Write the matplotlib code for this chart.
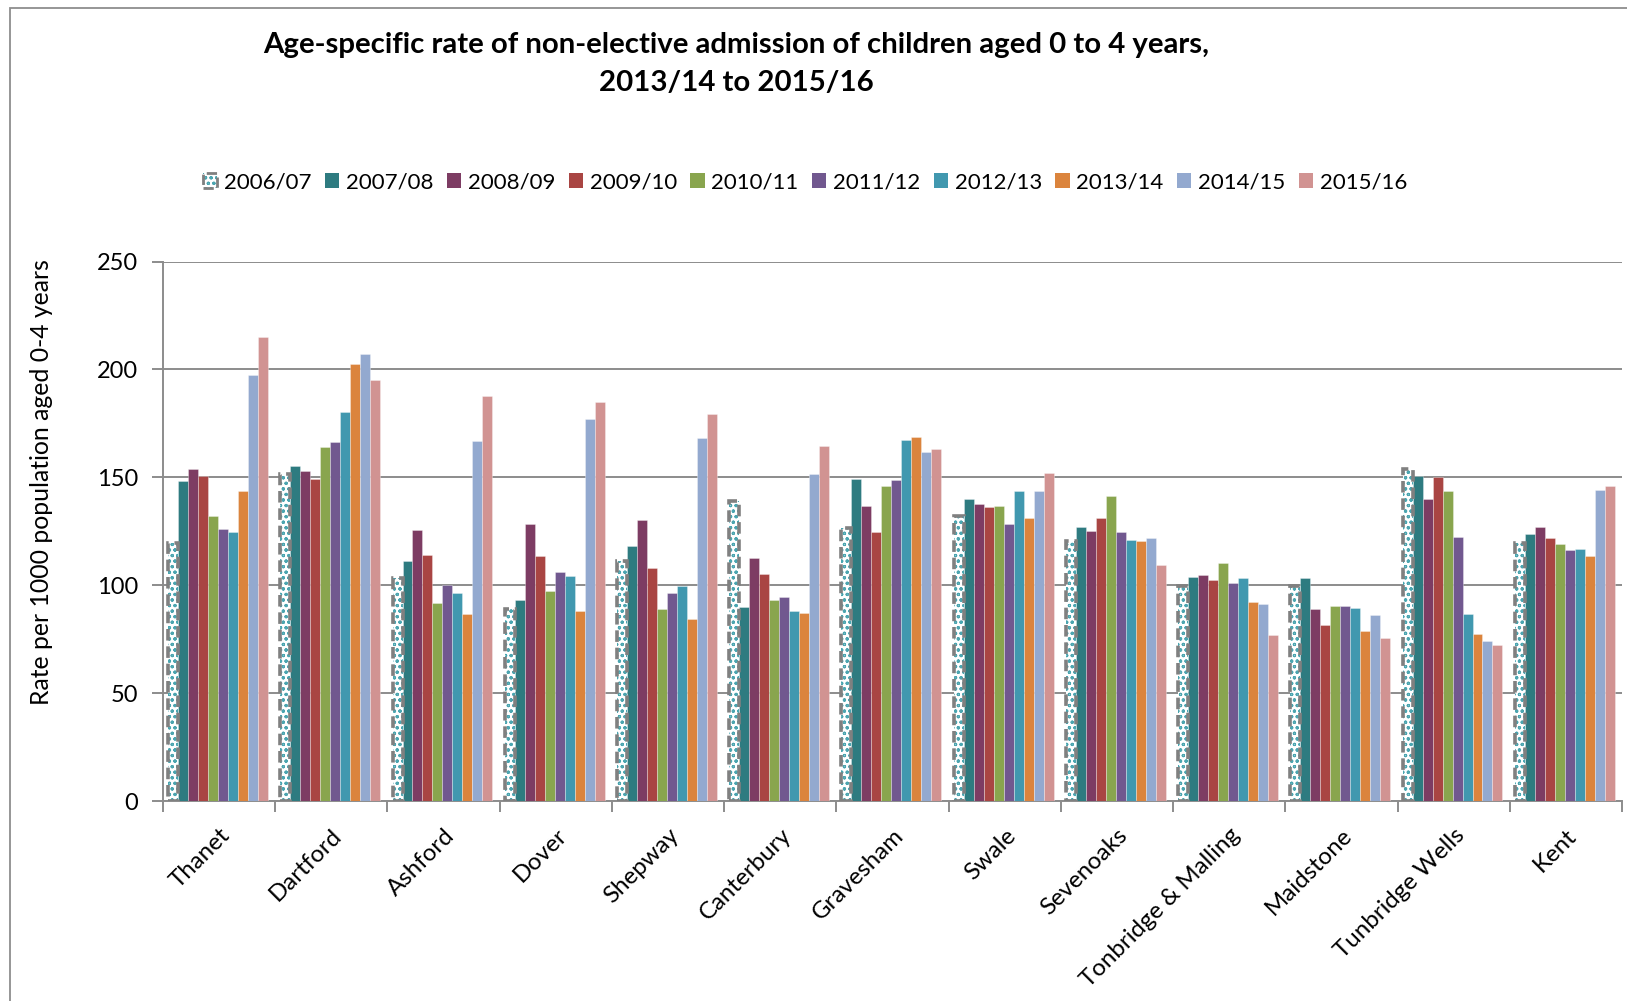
import matplotlib
matplotlib.use("Agg")
import matplotlib.pyplot as plt
import numpy as np
from matplotlib.patches import Patch, Rectangle
from matplotlib.legend_handler import HandlerTuple

plt.rcParams['font.family'] = ['Lato', 'DejaVu Sans']
plt.rcParams['hatch.linewidth'] = 0.8

districts = ["Thanet", "Dartford", "Ashford", "Dover", "Shepway", "Canterbury",
             "Gravesham", "Swale", "Sevenoaks", "Tonbridge & Malling", "Maidstone",
             "Tunbridge Wells", "Kent"]
years = ["2006/07", "2007/08", "2008/09", "2009/10", "2010/11", "2011/12",
         "2012/13", "2013/14", "2014/15", "2015/16"]

rate_2006_07 = [119.5, 151.5, 103.5, 89.0, 111.4, 139.2, 126.5, 132.1, 120.5, 99.8, 99.8, 154.0, 119.7]
rate_2007_08 = [148.5, 155.3, 111.4, 93.0, 118.2, 89.9, 149.3, 140.1, 127.0, 103.8, 103.3, 150.7, 123.7]
rate_2008_09 = [153.8, 153.1, 125.8, 128.5, 130.3, 112.7, 136.6, 137.6, 125.3, 104.6, 89.1, 140.1, 127.0]
rate_2009_10 = [150.7, 149.0, 113.9, 113.6, 107.9, 105.1, 124.7, 136.4, 131.3, 102.6, 81.6, 150.2, 121.7]
rate_2010_11 = [132.0, 164.1, 91.6, 97.3, 89.1, 93.2, 145.9, 136.8, 141.2, 110.1, 90.2, 143.5, 119.2]
rate_2011_12 = [126.0, 166.4, 100.0, 106.0, 96.5, 94.7, 148.7, 128.5, 124.5, 101.0, 90.2, 122.5, 116.4]
rate_2012_13 = [124.8, 180.3, 96.4, 104.3, 99.8, 88.2, 167.2, 143.5, 120.9, 103.5, 89.4, 86.6, 116.6]
rate_2013_14 = [143.7, 202.6, 86.6, 88.2, 84.3, 87.2, 168.7, 131.1, 120.5, 92.2, 79.0, 77.3, 113.4]
rate_2014_15 = [197.5, 207.3, 166.9, 177.2, 168.2, 151.5, 161.8, 143.7, 122.0, 91.1, 86.1, 74.2, 144.0]
rate_2015_16 = [214.9, 195.0, 187.6, 185.1, 179.3, 164.6, 163.1, 151.8, 109.4, 76.8, 75.5, 72.3, 146.0]

series = [rate_2006_07, rate_2007_08, rate_2008_09, rate_2009_10, rate_2010_11,
          rate_2011_12, rate_2012_13, rate_2013_14, rate_2014_15, rate_2015_16]

colors = [None, "#2E7B80", "#7D3C63", "#A94543", "#89A54E", "#71588F",
          "#4198AF", "#DB843D", "#93A9CF", "#D19392"]
dot_color = "#4BA5B0"
outline_grey = "#808080"
grid_grey = "#8C8C8C"

W, H = 1627, 1001
fig = plt.figure(figsize=(W / 100, H / 100), dpi=100)

# outer chart border
fig.patches.append(Rectangle((10 / W, -0.05), 1.1, 1 - 8 / H + 0.05,
                             transform=fig.transFigure, fill=False,
                             edgecolor="#8E8E8E", linewidth=1.3))

ax = fig.add_axes([163 / W, 200 / H, (1622 - 163) / W, (801 - 261.5) / H])

n = len(series)
x = np.arange(len(districts))
bw = 0.089
for j, vals in enumerate(series):
    pos = x + (j - (n - 1) / 2) * bw - 0.01
    if j == 0:
        ax.bar(pos, vals, width=bw, color="white", edgecolor=dot_color,
               linewidth=0, hatch="ooo", zorder=3)
        ax.bar(pos, vals, width=bw, fill=False, edgecolor=outline_grey,
               linewidth=2.6, linestyle=(0, (3.2, 1.6)), zorder=4)
    else:
        ax.bar(pos, vals, width=bw, color=colors[j],
               edgecolor=(1, 1, 1, 0.45), linewidth=0.5, zorder=3)

ax.set_xlim(-0.5, len(districts) - 0.5)
ax.set_ylim(0, 250)
ax.set_yticks([0, 50, 100, 150, 200, 250])
ax.yaxis.grid(True, color=grid_grey, linewidth=1.4, zorder=0)
ax.set_axisbelow(True)

for s in ["top", "right"]:
    ax.spines[s].set_visible(False)
for s in ["left", "bottom"]:
    ax.spines[s].set_color(grid_grey)
    ax.spines[s].set_linewidth(1.4)

ax.set_xticks(np.arange(len(districts) + 1) - 0.5)
ax.set_xticklabels([])
ax.set_xticks(x, minor=True)
ax.set_xticklabels(districts, minor=True, rotation=45, ha="right",
                   rotation_mode="anchor", fontsize=17.3)
ax.tick_params(axis="x", which="major", length=8, width=1.4, color=grid_grey)
ax.tick_params(axis="x", which="minor", length=0, pad=17)
ax.tick_params(axis="y", length=8, width=1.4, color=grid_grey,
               labelsize=17, pad=10)

fig.text(736 / W, 1 - 32 / H,
         "Age-specific rate of non-elective admission of children aged 0 to 4 years,\n2013/14 to 2015/16",
         ha="center", va="top", fontsize=21.2, fontweight="bold", linespacing=1.56)

fig.text(42 / W, 1 - 482 / H, "Rate per 1000 population aged 0-4 years",
         rotation=90, ha="center", va="center", fontsize=17.8)

handles = [(Patch(facecolor="white", edgecolor=dot_color, hatch="ooo", linewidth=0),
            Patch(fill=False, edgecolor=outline_grey, linewidth=2, linestyle="--"))]
handles += [Patch(facecolor=c, edgecolor="none") for c in colors[1:]]
fig.legend(handles, years, loc="center", bbox_to_anchor=(805 / W, 1 - 182 / H),
           ncol=10, frameon=False, fontsize=16.0, handlelength=0.65,
           handleheight=0.65, handletextpad=0.3, columnspacing=0.6,
           handler_map={tuple: HandlerTuple(ndivide=1)})

fig.savefig("out.png", dpi=100)
